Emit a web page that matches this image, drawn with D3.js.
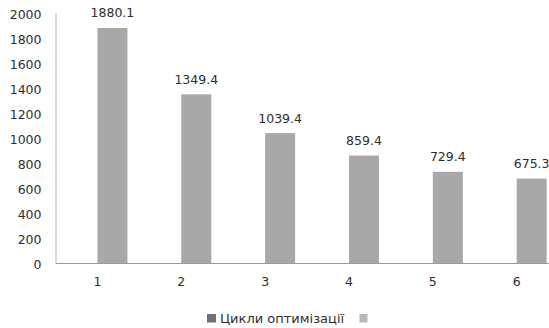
<!DOCTYPE html>
<html>
<head>
<meta charset="utf-8">
<script src="https://cdn.jsdelivr.net/npm/d3@7/dist/d3.min.js"></script>
<style>
  html, body { margin: 0; padding: 0; background: #fff; }
  svg { display: block; font-family: "DejaVu Sans", sans-serif; }
</style>
</head>
<body>
<svg id="chart" width="549" height="328"></svg>
<script>
// Categories (optimisation cycles) and series
const categories = ["1", "2", "3", "4", "5", "6"];
const seriesNames = ["Цикли оптимізації", ""];
const cycleSeries = [null, null, null, null, null, null];
const valueSeries = [1880.1, 1349.4, 1039.4, 859.4, 729.4, 675.3];
const yTicks = [0, 200, 400, 600, 800, 1000, 1200, 1400, 1600, 1800, 2000];

const seriesColors = ["#707070", "#a8a8a8"];
const textColor = "#2e2e2e";

const svg = d3.select("#chart");
const plot = { left: 55.5, right: 558.6, top: 13, bottom: 263 };

const x0 = d3.scaleBand()
  .domain(categories)
  .range([plot.left, plot.right])
  .paddingInner(0.2845)
  .paddingOuter(0.1423);

const x1 = d3.scaleBand()
  .domain(d3.range(seriesNames.length))
  .range([0, x0.bandwidth()]);

const y = d3.scaleLinear().domain([0, 2000]).range([plot.bottom, plot.top]);

const seriesData = [cycleSeries, valueSeries];

// Bars and their value labels
seriesData.forEach((vals, si) => {
  const rows = categories.map((c, i) => ({ c, v: vals[i] })).filter(d => d.v != null);

  svg.append("g")
    .selectAll("rect")
    .data(rows)
    .join("rect")
    .attr("x", d => x0(d.c) + x1(si))
    .attr("width", x1.bandwidth())
    .attr("y", d => y(d.v))
    .attr("height", d => y(0) - y(d.v))
    .attr("fill", seriesColors[si]);

  svg.append("g")
    .selectAll("text")
    .data(rows)
    .join("text")
    .attr("x", d => x0(d.c) + x1(si) + x1.bandwidth() / 2)
    .attr("y", d => y(d.v) - 10.5)
    .attr("text-anchor", "middle")
    .attr("font-size", 12.5)
    .attr("fill", textColor)
    .text(d => d3.format(".1f")(d.v));
});

// Y axis
const yAxis = svg.append("g")
  .attr("transform", `translate(${plot.left},0)`)
  .call(d3.axisLeft(y).tickValues(yTicks).tickSize(0).tickPadding(14).tickFormat(d3.format("d")));
yAxis.select(".domain").attr("stroke", "#b5b5b5").attr("stroke-width", 1);
yAxis.selectAll("text")
  .attr("font-size", 12.5)
  .attr("fill", textColor)
  .attr("font-family", "DejaVu Sans, sans-serif")
  .attr("dy", "0.45em");

// X axis (labels sit at the centre of each category group)
const xAxis = svg.append("g")
  .attr("transform", `translate(0,${plot.bottom})`)
  .call(d3.axisBottom(x0).tickSize(0).tickPadding(14));
xAxis.select(".domain").attr("stroke", "#9a9a9a").attr("stroke-width", 1);
xAxis.selectAll("text")
  .attr("font-size", 12.5)
  .attr("fill", textColor)
  .attr("font-family", "DejaVu Sans, sans-serif");

// Legend
const legend = svg.append("g").attr("transform", "translate(207,314)");
legend.append("rect").attr("x", 0).attr("y", 0).attr("width", 9).attr("height", 8.5).attr("fill", seriesColors[0]);
legend.append("text")
  .attr("x", 13).attr("y", 9)
  .attr("font-size", 13)
  .attr("fill", textColor)
  .text(seriesNames[0]);
legend.append("rect").attr("x", 152.5).attr("y", 0).attr("width", 8).attr("height", 8.5).attr("fill", "#b9b9b9");
</script>
</body>
</html>
